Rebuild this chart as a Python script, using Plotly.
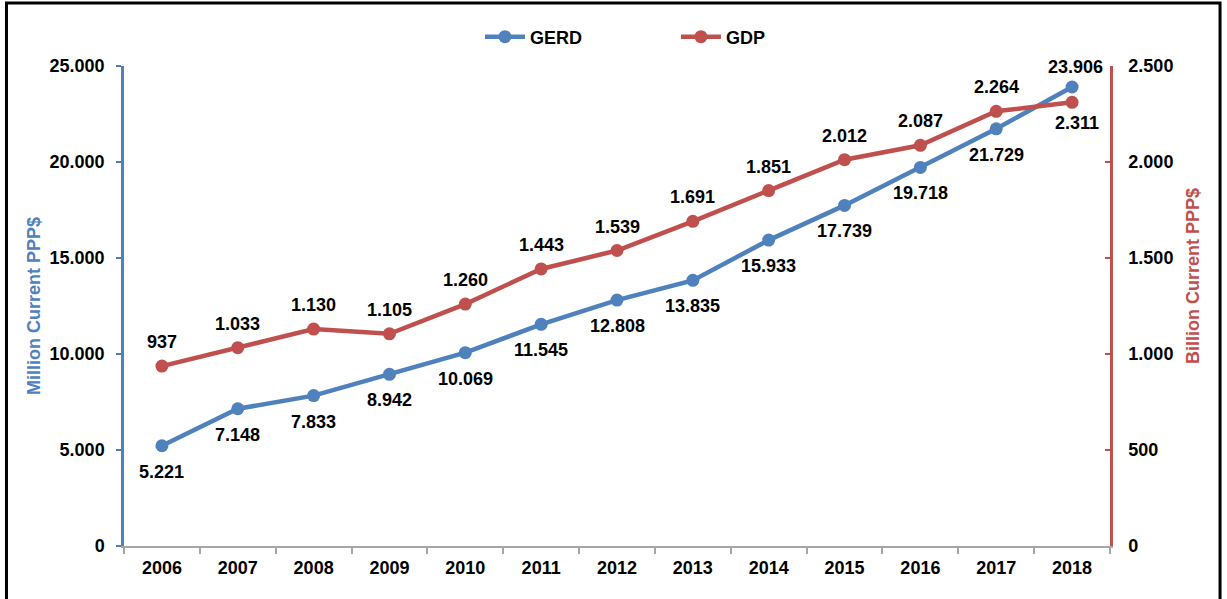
import plotly.graph_objects as go

years = ["2006", "2007", "2008", "2009", "2010", "2011", "2012", "2013", "2014", "2015", "2016", "2017", "2018"]
gerd = [5221, 7148, 7833, 8942, 10069, 11545, 12808, 13835, 15933, 17739, 19718, 21729, 23906]
gdp = [937, 1033, 1130, 1105, 1260, 1443, 1539, 1691, 1851, 2012, 2087, 2264, 2311]

BLUE = "#4f81bd"
RED = "#c0504d"
FONT = "Liberation Sans, Arial, sans-serif"
LBL = dict(family=FONT, size=18, color="black", weight="bold")


def fmt(v):
    return f"{v:,d}".replace(",", ".")


fig = go.Figure()
fig.add_trace(go.Scatter(
    x=years, y=gerd, name="GERD", mode="lines+markers",
    line=dict(color=BLUE, width=4.5), marker=dict(color=BLUE, size=13),
    yaxis="y", cliponaxis=False,
))
fig.add_trace(go.Scatter(
    x=years, y=gdp, name="GDP", mode="lines+markers",
    line=dict(color=RED, width=4.5), marker=dict(color=RED, size=13),
    yaxis="y2", cliponaxis=False,
))

annotations = []
n = len(years)
for i, v in enumerate(gerd):
    last = i == n - 1
    annotations.append(dict(x=i, y=v, xref="x", yref="y", text=fmt(v), showarrow=False,
                            font=LBL, yshift=20 if last else -26, xshift=3 if last else 0))
for i, v in enumerate(gdp):
    last = i == n - 1
    annotations.append(dict(x=i, y=v, xref="x", yref="y2", text=fmt(v), showarrow=False,
                            font=LBL, yshift=-21 if last else 24, xshift=5 if last else 0))

annotations.append(dict(text="Million Current PPP$", xref="paper", yref="paper", x=-0.0913, y=0.5,
                        xanchor="center", yanchor="middle",
                        textangle=-90, showarrow=False,
                        font=dict(family=FONT, size=18, color=BLUE, weight="bold")))
annotations.append(dict(text="Billion Current PPP$", xref="paper", yref="paper", x=1.0842, y=0.5625,
                        xanchor="center", yanchor="middle",
                        textangle=-90, showarrow=False,
                        font=dict(family=FONT, size=18, color=RED, weight="bold")))

fig.update_layout(
    width=1227, height=599,
    separators=",.",
    paper_bgcolor="white", plot_bgcolor="white",
    margin=dict(l=124, r=117, t=66, b=53, autoexpand=False),
    font=dict(family=FONT, size=15, color="black"),
    showlegend=True,
    legend=dict(orientation="h", x=0.361, xanchor="left", y=1.0604, yanchor="middle",
                bgcolor="rgba(0,0,0,0)",
                font=dict(family=FONT, size=18, color="black", weight="bold"),
                entrywidth=141, entrywidthmode="pixels", itemwidth=40),
    xaxis=dict(type="category", range=[-0.5, n - 0.5], showgrid=False, showline=True,
               linecolor="#a6a6a6", linewidth=2,
               ticks="outside", tickson="boundaries", ticklen=6, tickcolor="#a6a6a6", tickwidth=1.5,
               ticklabelstandoff=4, automargin=False,
               tickfont=dict(family=FONT, size=18, color="black", weight="bold"), zeroline=False),
    yaxis=dict(range=[0, 25000], dtick=5000, tickformat=",d", showgrid=False, zeroline=False,
               showline=True, linecolor=BLUE, linewidth=2.5, ticks="outside", ticklen=5,
               tickcolor=BLUE, tickwidth=2, ticklabelstandoff=8, automargin=False,
               tickfont=dict(family=FONT, size=18, color="black", weight="bold")),
    yaxis2=dict(range=[0, 2500], dtick=500, tickformat=",d", showgrid=False, zeroline=False,
                overlaying="y", side="right",
                showline=True, linecolor=RED, linewidth=2.5, ticks="inside", ticklen=5,
                tickcolor=RED, tickwidth=2, ticklabelstandoff=12, automargin=False,
                tickfont=dict(family=FONT, size=18, color="black", weight="bold")),
    annotations=annotations,
    shapes=[dict(type="rect", xref="paper", yref="paper",
                 x0=-0.1192, x1=1.1116, y0=-0.3, y1=1.131,
                 line=dict(color="black", width=3), fillcolor="rgba(0,0,0,0)", layer="above")],
)

fig.write_html("out.html", config={"displayModeBar": False},
               post_script="document.body.style.margin='0px';")
